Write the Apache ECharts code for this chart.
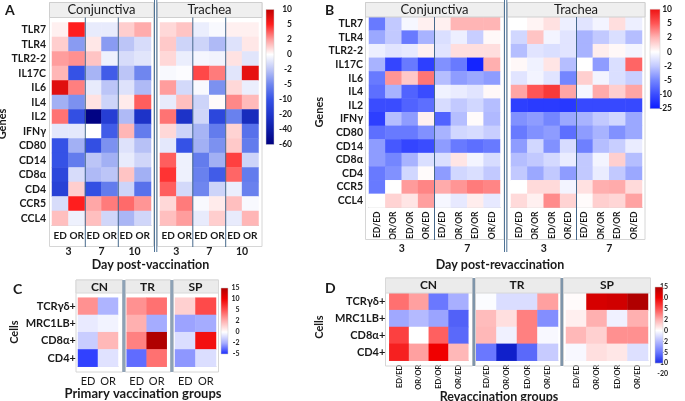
<!DOCTYPE html>
<html>
<head>
<meta charset="utf-8">
<script src="https://cdn.jsdelivr.net/npm/echarts@6/dist/echarts.min.js"></script>
<style>
html, body { margin: 0; padding: 0; background: #fff; }
#main { width: 685px; height: 401px; }
</style>
</head>
<body>
<div id="main"></div>
<script>
var FONT = 'Lato, "Noto Sans", sans-serif';
var INK = '#1a1a1a';

// ---- categories ----
var genes = ['TLR7', 'TLR4', 'TLR2-2', 'IL17C', 'IL6', 'IL4', 'IL2', 'IFNγ', 'CD80', 'CD14', 'CD8α', 'CD4', 'CCR5', 'CCL4'];
var cellTypes = ['TCRγδ+', 'MRC1LB+', 'CD8α+', 'CD4+'];
var groupsA = ['ED', 'OR', 'ED', 'OR', 'ED', 'OR'];
var daysA = ['3', '7', '10'];
var groupsB = ['ED/ED', 'OR/OR', 'ED/OR', 'OR/ED', 'ED/ED', 'OR/OR', 'ED/OR', 'OR/ED'];
var daysB = ['3', '7'];
var groupsC = ['ED', 'OR'];
var groupsD = ['ED/ED', 'OR/OR', 'ED/OR', 'OR/ED'];

// ---- colour scale ticks (fold change) ----
var ticksA = [-60, -40, -20, -10, -5, -2, 0, 2, 5, 10];
var ticksB = [-25, -10, -5, -2, 0, 2, 5, 10];
var ticksC = [-5, -2, 0, 2, 5, 10, 15];
var ticksD = [-20, -10, -5, -2, 0, 2, 5, 10, 15];

// ---- A: day post-vaccination (rows = genes, cols = 3ED 3OR 7ED 7OR 10ED 10OR) ----
var aConj = [
  [0.3, 5, -0.7, -0.7, 1, 1.7],
  [1, -4, 0.5, -4, -2, -1.2],
  [2, 2.3, 1.2, -0.5, -1.2, -0.9],
  [1.5, -10, -2.8, -9, -2, -5],
  [7.5, 2.7, -0.7, -2, -1, -2.5],
  [-3, -4.5, 0.6, -1.5, 0.4, 3.5],
  [3, -11, -58, -17, -2.5, -22],
  [-0.8, -0.8, 0, -9, 1.5, -6],
  [-10, -3, -11, -4.5, -1, -2.2],
  [-10, -6, -2, -3, -0.7, -1.4],
  [-14, -1.2, -2.5, -2, 1.2, -3],
  [-16, 1, -11, -6, -1.5, -7],
  [-1.2, 5, 1.8, 2.8, 3.2, 2.2],
  [1.3, -0.5, 1.3, -1.4, -2.7, -1.4]
];
var aTrach = [
  [0.8, 1.2, -0.6, -0.2, 0.3, 0.3],
  [1.1, -1.5, -1.5, -2.5, -1, 0.5],
  [0.8, -0.6, -0.3, -0.4, 0.6, -0.9],
  [-0.2, -0.1, 4, 2.8, -0.9, 7],
  [2, -1.3, -0.2, -4.5, 0.8, -0.6],
  [-0.7, 1.3, -1.5, 0.1, 2.5, 1.4],
  [3, -22, -1.4, -14, -5.5, -28],
  [0.8, -1.5, -2.8, -6, 0.9, -7],
  [-0.8, -10, -3, -4.5, 1.1, -6],
  [3.5, -0.5, -6, -3, 4.2, -1.5],
  [4.5, -0.5, -5.5, -9, 3.3, -6],
  [3.5, -1.3, -5, -1.5, -0.6, -5.5],
  [0.8, 2.8, -0.2, 0.4, 1.3, -0.2],
  [1.3, 2, -0.7, 1, -0.7, 1.5]
];

// ---- B: day post-revaccination ----
var bConj = [
  [-6, -2, -0.3, 0.4, 0.4, 2, 2, 2],
  [-3.5, -2, -6, -3, -1.2, -0.6, -1.8, 0.2],
  [-0.6, -1, -0.8, 0.4, -1, 0.9, 0.9, 0.9],
  [-3, -12, -6, -14, -4.5, -6, -22, 2.2],
  [-6, 3, 1.5, 4, -2.5, -4, -3.5, -4],
  [-7, -3, -8, -10, -0.5, -0.7, -1, 0.2],
  [-10, -10, -8, -7, -1.3, -2, -1.5, -2.5],
  [-14, -2.5, -4, 0.4, -8, -2.5, 0.1, -2.7],
  [-7, -6, -6, -4.5, -3, -1.5, -1.3, -1.8],
  [-4, -9, -12, -10, -4, -6, -7, -6],
  [-4, -5, -3, -1.2, -1.2, 0.7, -0.4, -1.3],
  [-6, -4.5, -1.5, 0.1, -4, -1.5, -1.2, -2],
  [-6, 0, 2.8, 3.5, 2.3, 3, 3.8, 3.5],
  [0, 1.2, 0.7, 2.7, -0.3, -0.8, 0.5, -0.8]
];
var bTrach = [
  [0, 0.3, 0.8, -0.6, -1, -0.4, 0.9, -0.6],
  [-1.5, 1.6, -0.4, -1, -3, -2, -1.2, -2.5],
  [-2.5, -1, -1.2, -1, -3, 0.5, 0.2, -0.4],
  [0.2, -0.5, 0.7, -2.5, 0, -4, -1.2, 4.5],
  [-1, -0.4, -1, -5, 1.3, -0.4, -1.2, -1.8],
  [2.5, 5, 7, 2.5, -0.3, 2.3, 1.3, 2.5],
  [-14, -15, -15, -16, -11, -11, -11, -11],
  [-4.5, -4, -5, -3.5, -3, -2, -1.5, -3.5],
  [-6, -4.5, -4, -7, -4, -3, -4.5, -3.5],
  [-4, -1.5, -4.5, -1.3, -5.5, -2.5, -1.8, -0.7],
  [-2.5, -2, -1.4, -0.7, -2, -0.4, 1.3, -2.5],
  [-2, -3.5, -2, -4, -2, -0.7, -2, -3.5],
  [0, 1, 1, -0.4, 0.8, 2.2, 2.3, 1],
  [1, 0.4, 3.3, 1.2, 0.1, 1.3, 1.1, 2.6]
];

// ---- C: primary vaccination groups (rows = cell types) ----
var cCN = [[3, -1.8], [-0.5, -0.3], [-1.2, 1.8], [-4.5, -0.7]];
var cTR = [[3, 4], [2, -2], [3.5, 15], [-3.5, 4]];
var cSP = [[1.2, 5.5], [-2.2, -2], [-0.8, 9], [-2.5, -0.8]];

// ---- D: revaccination groups ----
var dCN = [[4, 2.5, -5, -2.5], [-2.8, -2, -3, -6.5], [6, 0, 4.5, -6], [8, 2.5, 10, 1.8]];
var dTR = [[-0.1, -1, -1, 2.5], [1.7, 0.8, 3.5, -4], [1.8, -0.4, 3.5, -0.2], [-5, -14, -6, -1.5]];
var dSP = [[0.1, 12, 12.5, 15], [0.4, 2, -0.4, 2], [1.8, 1.2, 3, 3], [-0.2, 0.8, 0.6, -0.9]];

// colour of each tick (ascending)
var colorsA = ['#000080', '#0d1ca6', '#1f36cc', '#3552e6', '#6f86ef', '#bcc5f7', '#ffffff', '#ff9d9d', '#ff1e1e', '#c00000'];
var colorsB = ['#0a1aff', '#3a4cff', '#7486ff', '#c2c9ff', '#ffffff', '#ffb5b5', '#ff5555', '#ee1111'];
var colorsC = ['#1a2bff', '#a5acff', '#ffffff', '#ffb0b0', '#ff5252', '#f00000', '#b00000'];
var colorsD = ['#0010a0', '#1a2be8', '#6a78ff', '#b4baff', '#ffffff', '#ffb0b0', '#ff5050', '#f00000', '#b00000'];

// the colour bars are evenly spaced per tick, so map value -> tick position
function toPos(v, ticks) {
  if (v <= ticks[0]) return 0;
  for (var i = 0; i < ticks.length - 1; i++) {
    if (v <= ticks[i + 1]) return i + (v - ticks[i]) / (ticks[i + 1] - ticks[i]);
  }
  return ticks.length - 1;
}

var chart = echarts.init(document.getElementById('main'));
var grids = [], xAxis = [], yAxis = [], series = [], graphic = [];

function addGrid(l, t, w, h) {
  grids.push({left: l, top: t, width: w, height: h, outerBoundsMode: 'none', containLabel: false});
  return grids.length - 1;
}

function heat(cfg) {
  var gi = addGrid(cfg.left, cfg.top, cfg.width, cfg.height);
  var xi = xAxis.length, yi = yAxis.length;
  xAxis.push({
    gridIndex: gi, type: 'category', data: cfg.cols,
    axisLine: {show: true, lineStyle: {color: '#d2d2d2'}}, axisTick: {show: false},
    axisLabel: {interval: 0, rotate: cfg.rotate || 0, margin: cfg.xMargin, fontSize: cfg.xSize,
      fontWeight: cfg.xWeight || 'bold', color: INK, fontFamily: FONT}
  });
  yAxis.push({
    gridIndex: gi, type: 'category', data: cfg.rows, inverse: true,
    axisLine: {show: false}, axisTick: {show: false},
    axisLabel: {show: !!cfg.rowLabels, interval: 0, margin: cfg.yMargin, fontSize: cfg.ySize,
      fontWeight: 'bold', color: INK, fontFamily: FONT},
    name: cfg.yName || '', nameLocation: 'middle', nameRotate: 90, nameGap: cfg.nameGap || 0,
    nameTextStyle: {fontSize: 11, fontWeight: 'bold', color: INK, fontFamily: FONT}
  });
  var data = [];
  cfg.values.forEach(function (row, r) {
    row.forEach(function (v, c) { data.push([c, r, toPos(v, cfg.ticks), v]); });
  });
  series.push({type: 'heatmap', xAxisIndex: xi, yAxisIndex: yi, data: data,
    emphasis: {disabled: true}, itemStyle: {borderWidth: 0}});
  return series.length - 1;
}

// second row of x labels (days) on an overlay grid
function dayAxis(cfg) {
  var gi = addGrid(cfg.left, cfg.top, cfg.width, cfg.height);
  xAxis.push({
    gridIndex: gi, type: 'category', data: cfg.days, offset: cfg.offset,
    axisLine: {show: true, lineStyle: {color: '#d2d2d2'}}, axisTick: {show: false},
    axisLabel: {interval: 0, margin: cfg.margin, fontSize: 10.5, fontWeight: 'bold', color: INK, fontFamily: FONT}
  });
  yAxis.push({gridIndex: gi, type: 'value', show: false});
}

function colorbar(cfg) {
  var n = cfg.ticks.length - 1, from = cfg.from || 0;
  var gi = addGrid(cfg.left, cfg.top, cfg.width, cfg.height);
  xAxis.push({gridIndex: gi, type: 'value', show: false});
  yAxis.push({
    gridIndex: gi, type: 'value', position: 'right', min: 0, max: n, interval: 1,
    axisLine: {show: false}, axisTick: {show: false}, splitLine: {show: false},
    axisLabel: {align: 'right', margin: cfg.margin, fontSize: cfg.size, fontWeight: 'bold', color: INK,
      fontFamily: FONT, showMinLabel: true, showMaxLabel: true,
      formatter: function (v) { return String(cfg.ticks[v]); }}
  });
  var stops = [];
  for (var i = n; i >= from; i--) stops.push({offset: (n - i) / (n - from), color: cfg.colors[i]});
  graphic.push({type: 'rect', z: 100,
    shape: {x: cfg.left, y: cfg.top, width: cfg.width, height: cfg.height * (n - from) / n},
    style: {fill: new echarts.graphic.LinearGradient(0, 0, 0, 1, stops), stroke: '#c8c8c8', lineWidth: 0.5}});
}

function line(x1, y1, x2, y2, color, w) {
  graphic.push({type: 'line', z: 100, shape: {x1: x1, y1: y1, x2: x2, y2: y2},
    style: {stroke: color, lineWidth: w || 1}});
}
function box(x, y, w, h, fill, stroke) {
  graphic.push({type: 'rect', z: 99, shape: {x: x, y: y, width: w, height: h},
    style: {fill: fill || 'none', stroke: stroke || '#d6d6d6', lineWidth: 1}});
}
function text(t, x, y, size, weight, align) {
  graphic.push({type: 'text', z: 101, x: x, y: y,
    style: {text: t, fontSize: size, fontWeight: weight || 'normal', fontFamily: FONT, fill: INK,
      textAlign: align || 'center', textVerticalAlign: 'middle'}});
}

// ---- panel A ----
var sA1 = heat({left: 52, top: 22.5, width: 99, height: 203, rows: genes, cols: groupsA, values: aConj, ticks: ticksA,
  rowLabels: true, yMargin: 6, ySize: 10.5, yName: 'Genes', nameGap: 39, xMargin: 5, xSize: 10});
var sA2 = heat({left: 160, top: 22.5, width: 98.5, height: 203, rows: genes, cols: groupsA, values: aTrach, ticks: ticksA,
  xMargin: 5, xSize: 10});
dayAxis({left: 52, top: 22.5, width: 99, height: 203, days: daysA, offset: 16, margin: 5});
dayAxis({left: 160, top: 22.5, width: 98.5, height: 203, days: daysA, offset: 16, margin: 5});

// ---- panel B ----
var sB1 = heat({left: 369, top: 17, width: 131, height: 190.5, rows: genes, cols: groupsB, values: bConj, ticks: ticksB,
  rowLabels: true, yMargin: 6, ySize: 10.5, yName: 'Genes', nameGap: 44, xMargin: 4, xSize: 8.5, rotate: 90});
var sB2 = heat({left: 511, top: 17, width: 131, height: 190.5, rows: genes, cols: groupsB, values: bTrach, ticks: ticksB,
  xMargin: 4, xSize: 8.5, rotate: 90});
dayAxis({left: 369, top: 17, width: 131, height: 190.5, days: daysB, offset: 31, margin: 5});
dayAxis({left: 511, top: 17, width: 131, height: 190.5, days: daysB, offset: 31, margin: 5});

// ---- panel C ----
var sC1 = heat({left: 78, top: 297.7, width: 40, height: 69, rows: cellTypes, cols: groupsC, values: cCN, ticks: ticksC,
  rowLabels: true, yMargin: 2, ySize: 11, yName: 'Cells', nameGap: 58, xMargin: 9, xSize: 11, xWeight: 'normal'});
var sC2 = heat({left: 126.7, top: 297.7, width: 40, height: 69, rows: cellTypes, cols: groupsC, values: cTR, ticks: ticksC,
  xMargin: 9, xSize: 11, xWeight: 'normal'});
var sC3 = heat({left: 175, top: 297.7, width: 41, height: 69, rows: cellTypes, cols: groupsC, values: cSP, ticks: ticksC,
  xMargin: 9, xSize: 11, xWeight: 'normal'});

// ---- panel D ----
var sD1 = heat({left: 389.3, top: 293.3, width: 79, height: 67.4, rows: cellTypes, cols: groupsD, values: dCN, ticks: ticksD,
  rowLabels: true, yMargin: 4, ySize: 11, yName: 'Cells', nameGap: 64, xMargin: 4, xSize: 7.5, rotate: 90});
var sD2 = heat({left: 476, top: 293.3, width: 82, height: 67.4, rows: cellTypes, cols: groupsD, values: dTR, ticks: ticksD,
  xMargin: 4, xSize: 7.5, rotate: 90});
var sD3 = heat({left: 566, top: 293.3, width: 82, height: 67.4, rows: cellTypes, cols: groupsD, values: dSP, ticks: ticksD,
  xMargin: 4, xSize: 7.5, rotate: 90});

// ---- colour bars ----
colorbar({left: 266, top: 9.5, width: 8, height: 135, ticks: ticksA, colors: colorsA, margin: 18, size: 8.5});
colorbar({left: 650, top: 9.3, width: 10, height: 99.4, ticks: ticksB, colors: colorsB, margin: 12, size: 8.5});
colorbar({left: 221, top: 288, width: 7, height: 66, ticks: ticksC, colors: colorsC, margin: 11.5, size: 7});
colorbar({left: 655, top: 287, width: 8, height: 87, ticks: ticksD, colors: colorsD, margin: 5, size: 7, from: 1});

// ---- facet frames, strips and dividers ----
box(49.5, 2.5, 104, 244); box(157.5, 2.5, 104.5, 244);
box(49.5, 2.5, 104, 15, '#efefef', '#cfcfcf'); box(157.5, 2.5, 104.5, 15, '#efefef', '#cfcfcf');
text('Conjunctiva', 101.5, 10, 13); text('Trachea', 209.5, 10, 13);
line(85.3, 17.5, 85.3, 247, '#46698c'); line(118.3, 17.5, 118.3, 247, '#46698c');
line(192.8, 17.5, 192.8, 247, '#46698c'); line(225.7, 17.5, 225.7, 247, '#46698c');
line(154.5, 0, 154.5, 252, '#4f7396'); line(156.8, 0, 156.8, 252, '#4f7396');

box(365.5, 2.5, 138.5, 237); box(507.5, 2.5, 137.5, 237);
box(365.5, 2.5, 138.5, 14.5, '#efefef', '#cfcfcf'); box(507.5, 2.5, 137.5, 14.5, '#efefef', '#cfcfcf');
text('Conjunctiva', 434.5, 9.8, 13); text('Trachea', 576, 9.8, 13);
line(434.5, 17, 434.5, 240, '#46698c'); line(576.5, 17, 576.5, 240, '#46698c');
line(504.5, 0, 504.5, 252, '#4f7396'); line(506.8, 0, 506.8, 252, '#4f7396');

box(76, 280, 46.5, 92); box(125.5, 280, 45, 92); box(173.5, 280, 45, 92);
box(76, 280, 46.5, 13, '#ebebeb', '#d8d8d8'); box(125.5, 280, 45, 13, '#ebebeb', '#d8d8d8'); box(173.5, 280, 45, 13, '#ebebeb', '#d8d8d8');
text('CN', 99.5, 287, 12, 'bold'); text('TR', 147.5, 287, 12, 'bold'); text('SP', 195.5, 287, 12, 'bold');
line(123.8, 280, 123.8, 372, '#8ea2b6', 3); line(171.8, 280, 171.8, 372, '#8ea2b6', 3);

box(385.5, 278, 87, 88); box(475.5, 278, 85, 88); box(563.5, 278, 87, 88);
box(385.5, 278, 87, 15, '#ebebeb', '#d8d8d8'); box(475.5, 278, 85, 15, '#ebebeb', '#d8d8d8'); box(563.5, 278, 87, 15, '#ebebeb', '#d8d8d8');
text('CN', 428.5, 285.5, 12, 'bold'); text('TR', 517, 285.5, 12, 'bold'); text('SP', 607, 285.5, 12, 'bold');
line(473.8, 278, 473.8, 366, '#7f95aa', 2.5); line(561.8, 278, 561.8, 366, '#7f95aa', 2.5);

// ---- panel letters and axis titles ----
text('A', 5, 10, 14, 'bold', 'left');
text('B', 325, 10, 14, 'bold', 'left');
text('C', 13, 289, 14, 'bold', 'left');
text('D', 325, 288, 14, 'bold', 'left');
text('Day post-vaccination', 150.5, 265, 12.5, 'bold');
text('Day post-revaccination', 500, 265, 12.5, 'bold');
text('Primary vaccination groups', 143, 394, 13, 'bold');
text('Revaccination groups', 499, 397, 12.5, 'bold');

var option = {
  backgroundColor: '#ffffff',
  animation: false,
  textStyle: {fontFamily: FONT},
  grid: grids,
  xAxis: xAxis,
  yAxis: yAxis,
  visualMap: [
    {type: 'continuous', show: false, dimension: 2, min: 0, max: ticksA.length - 1, seriesIndex: [sA1, sA2], inRange: {color: colorsA}},
    {type: 'continuous', show: false, dimension: 2, min: 0, max: ticksB.length - 1, seriesIndex: [sB1, sB2], inRange: {color: colorsB}},
    {type: 'continuous', show: false, dimension: 2, min: 0, max: ticksC.length - 1, seriesIndex: [sC1, sC2, sC3], inRange: {color: colorsC}},
    {type: 'continuous', show: false, dimension: 2, min: 0, max: ticksD.length - 1, seriesIndex: [sD1, sD2, sD3], inRange: {color: colorsD}}
  ],
  graphic: graphic,
  series: series
};
chart.setOption(option);
</script>
</body>
</html>
